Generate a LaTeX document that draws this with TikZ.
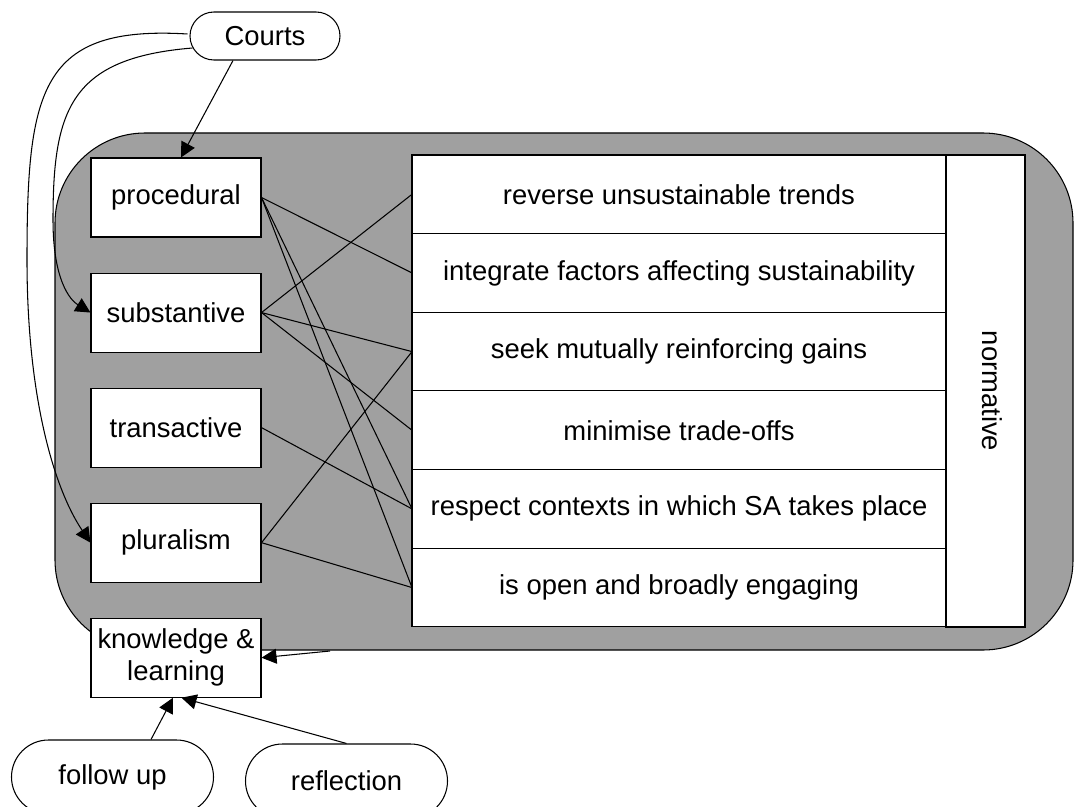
\documentclass[tikz,border=0pt]{standalone}
\usepackage{fontspec}
\setmainfont{Liberation Sans}
\usepackage{xcolor}
\usepackage{tikz}
\usetikzlibrary{arrows.meta, positioning}

\definecolor{panelgray}{RGB}{160,160,160}

\tikzset{
  aspect/.style={draw, fill=white, line width=0.6pt, minimum width=3.4cm, minimum height=1.58cm, inner sep=1pt, align=center},
  goal/.style={draw, fill=white, line width=0.6pt, minimum width=10.68cm, minimum height=1.573cm, outer sep=0pt},
  actor/.style={draw, fill=white, line width=0.6pt, rounded corners=0.48cm, minimum height=0.96cm},
  phase/.style={draw, fill=white, line width=0.6pt, rounded corners=0.74cm, minimum width=4.04cm, minimum height=1.48cm},
  link/.style={line width=0.6pt},
  feed/.style={line width=0.6pt, -{Triangle[length=0.3cm, width=0.3cm]}}
}

\begin{document}
\begin{tikzpicture}[font=\fontsize{15.6}{18}\selectfont]
    \useasboundingbox (0,0) rectangle (21.48,-16.14);

    % shaded panel behind the criteria
    \draw[fill=panelgray, line width=0.6pt, rounded corners=1.8cm] (1.1,-2.66) rectangle (21.46,-13.0);

    % left column
    \node[aspect] (proc) at (3.52,-3.95) {procedural};
    \node[aspect, below=0.7cm of proc] (subst) {substantive};
    \node[aspect, below=0.7cm of subst] (trans) {transactive};
    \node[aspect, below=0.7cm of trans] (plural) {pluralism};
    \node[aspect, below=0.7cm of plural] (know) {knowledge \&\\learning};

    % criteria table
    \node[goal] (r1) at (13.58,-3.886) {reverse unsustainable trends};
    \node[goal, below=0pt of r1] (r2) {integrate factors affecting sustainability};
    \node[goal, below=0pt of r2] (r3) {seek mutually reinforcing gains};
    \node[goal, below=0pt of r3] (r4) {minimise trade-offs};
    \node[goal, below=0pt of r4] (r5) {respect contexts in which SA takes place};
    \node[goal, below=0pt of r5] (r6) {is open and broadly engaging};
    \node[draw, fill=white, line width=0.6pt, outer sep=0pt, minimum width=1.58cm, minimum height=9.44cm,
          anchor=north west] (norm) at (r1.north east) {};
    \node[rotate=-90] at ([xshift=0.14cm]norm.center) {normative};

    % links between aspects and criteria
    \draw[link] (proc.east) -- (r2.west);
    \draw[link] (proc.east) -- (r5.west);
    \draw[link] (proc.east) -- (r6.west);
    \draw[link] (subst.east) -- (r1.west);
    \draw[link] (subst.east) -- (r3.west);
    \draw[link] (subst.east) -- (r4.west);
    \draw[link] (trans.east) -- (r5.west);
    \draw[link] (plural.east) -- (r3.west);
    \draw[link] (plural.east) -- (r6.west);

    % actors and feedback
    \node[actor, minimum width=3cm] (courts) at (5.3,-0.72) {Courts};
    \node[phase] (fup) at (2.25,-15.54) {follow up};
    \node[phase] (refl) at (6.93,-15.62) {reflection};

    \draw[feed] ([xshift=-0.64cm]courts.south) -- ([xshift=0.1cm]proc.north);
    \draw[feed] ([xshift=0.06cm,yshift=-0.24cm]courts.west) .. controls (1.4,-1.16) and (1.06,-2.2) .. (1.06,-4.4)
        .. controls (1.06,-5.6) and (1.4,-6.0) .. (subst.west);
    \draw[feed] ([xshift=-0.04cm,yshift=0.04cm]courts.west) .. controls (0.8,-0.5) and (0.54,-1.8) .. (0.54,-5.2)
        .. controls (0.54,-8.0) and (1.1,-9.8) .. (plural.west);

    \coordinate (panelbase) at (6.6,-13.02);
    \draw[feed] (panelbase) -- (know.east);
    \draw[feed] ([xshift=0.77cm]fup.north) -- ([xshift=-0.06cm]know.south);
    \draw[feed] (refl.north) -- ([xshift=0.11cm]know.south);
\end{tikzpicture}
\end{document}
